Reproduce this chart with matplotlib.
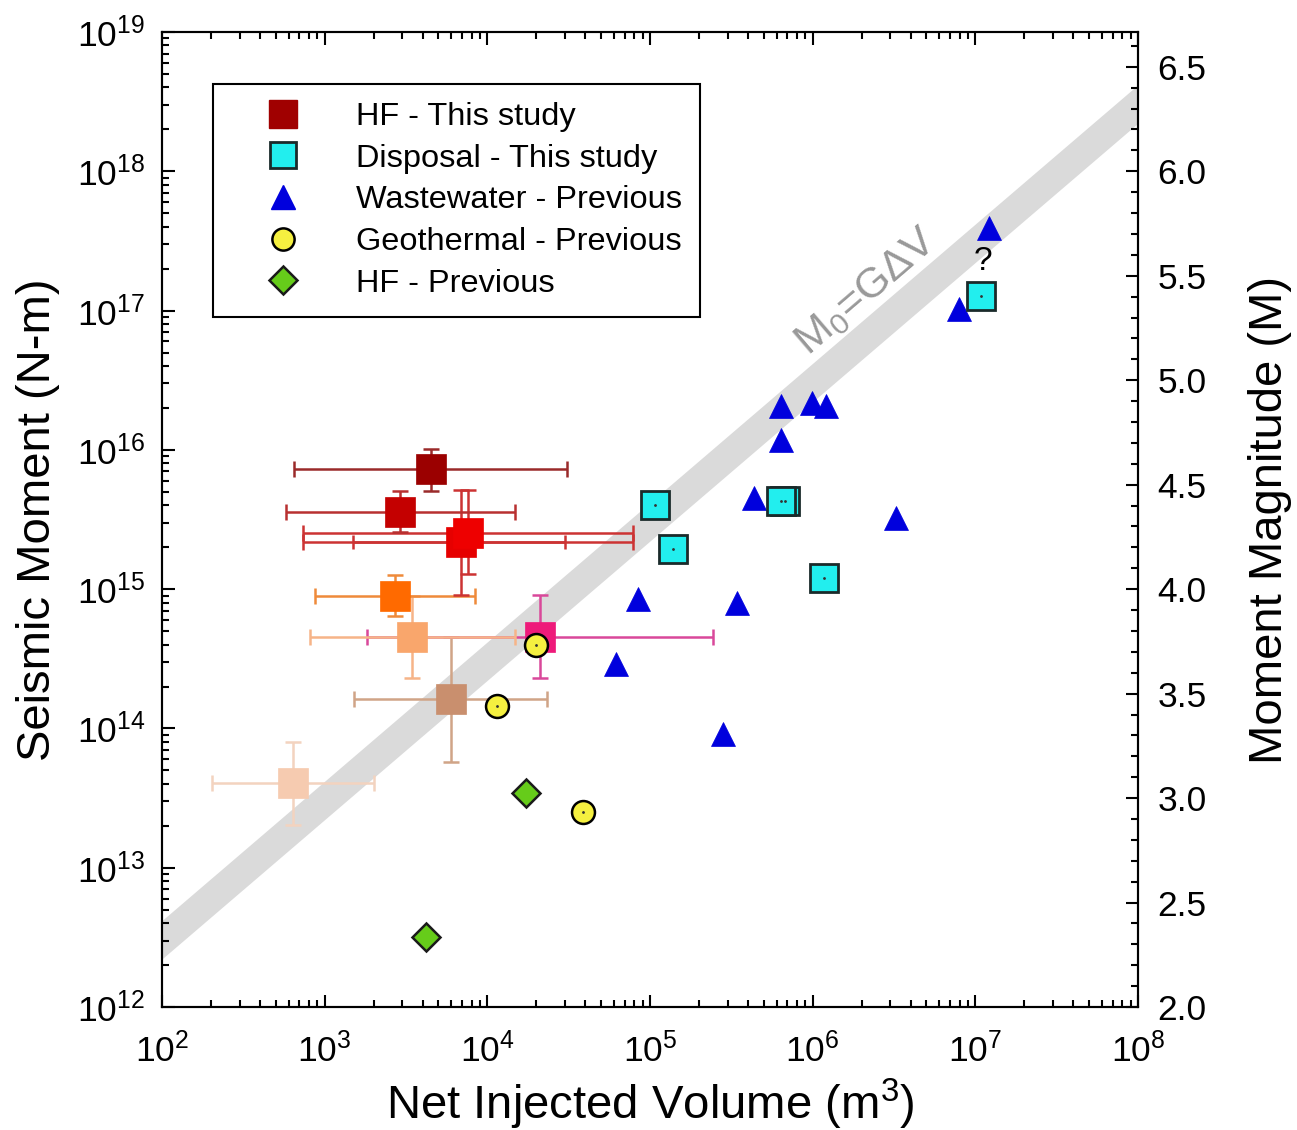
import numpy as np
import matplotlib
matplotlib.use("Agg")
import matplotlib.pyplot as plt
from matplotlib.lines import Line2D
from matplotlib.ticker import LogLocator, NullFormatter, MultipleLocator, FormatStrFormatter

plt.rcParams['font.family'] = ['Liberation Sans', 'DejaVu Sans']
plt.rcParams['mathtext.fontset'] = 'custom'
plt.rcParams['mathtext.rm'] = 'Liberation Sans'
plt.rcParams['mathtext.it'] = 'Liberation Sans:italic'
plt.rcParams['mathtext.bf'] = 'Liberation Sans:bold'

# ---------------------------------------------------------------
# data (volume in m3, moment in N-m)
# ---------------------------------------------------------------
# HF - this study (squares with error bars)
hf_vol = [635, 5940, 21000, 3460, 2700, 6855, 7630, 2900, 4480]
hf_m0 = [4.05e13, 1.62e14, 4.56e14, 4.56e14, 8.98e14, 2.17e15, 2.53e15, 3.6e15, 7.26e15]
hf_vol_lo = [202, 1510, 1810, 813, 871, 733, 733, 575, 650]
hf_vol_hi = [2.02e3, 2.33e4, 2.44e5, 1.48e4, 8.4e3, 7.9e4, 7.9e4, 1.49e4, 3.1e4]
hf_m0_lo = [2.03e13, 5.7e13, 2.29e14, 2.29e14, 6.4e14, 9.1e14, 1.28e15, 2.59e15, 5.1e15]
hf_m0_hi = [8.0e13, 4.56e14, 9.1e14, 9.0e14, 1.27e15, 5.15e15, 5.15e15, 5.06e15, 1.01e16]
hf_colors = ['#f6cbb0', '#c98f6e', '#ee1a7a', '#f9a66c', '#ff6a00',
             '#e60000', '#ee0000', '#c40000', '#9b0000']
hf_err_colors = ['#f3d3bf', '#d0a487', '#d9489a', '#f6b488', '#ef8a3a',
                 '#cc3333', '#cc3333', '#b83030', '#9a2a2a']
# second (inner) volume range drawn on one of the overlapping points
inner_idx = 5
inner_vol_lo = 1500
inner_vol_hi = 3.0e4

# Disposal - this study
disp_vol = [1.07e5, 1.38e5, 6.75e5, 6.35e5, 1.17e6, 1.09e7]
disp_m0 = [4.02e15, 1.95e15, 4.3e15, 4.3e15, 1.2e15, 1.27e17]

# Wastewater - previous
ww_vol = [1.22e7, 7.93e6, 6.35e5, 9.84e5, 1.2e6, 6.4e5, 4.37e5, 3.24e6,
          8.4e4, 3.41e5, 6.17e4, 2.83e5]
ww_m0 = [3.9e17, 1.02e17, 2.07e16, 2.16e16, 2.07e16, 1.18e16, 4.5e15, 3.23e15,
         8.45e14, 7.9e14, 2.89e14, 9.08e13]

# Geothermal - previous
geo_vol = [1.98e4, 1.15e4, 3.88e4]
geo_m0 = [3.97e14, 1.44e14, 2.53e13]

# HF - previous
hfp_vol = [1.74e4, 4.2e3]
hfp_m0 = [3.46e13, 3.2e12]

shear_modulus = 3e10  # Pa, for M0 = G dV
band_vol = [1e1, 1e9]

# ---------------------------------------------------------------
fig = plt.figure(figsize=(12.97, 11.30), dpi=100)
ax = fig.add_axes([0.1249, 0.1088, 0.7525, 0.8629])

ax.set_xscale('log')
ax.set_yscale('log')
ax.set_xlim(1e2, 1e8)
ax.set_ylim(1e12, 1e19)

# grey M0 = G dV band
ax.plot(band_vol, [shear_modulus * v for v in band_vol], color='#dadada',
        lw=21, solid_capstyle='butt', zorder=1)
ax.text(2.15e6, 1.36e17, r'$\mathregular{M_0}$=G$\mathregular{\Delta}$V', color='#999999',
        fontsize=31, rotation=40.6, rotation_mode='anchor',
        ha='center', va='center', zorder=2)

# HF this study with error bars
for i in range(len(hf_vol)):
    x, y = hf_vol[i], hf_m0[i]
    xerr = [[x - hf_vol_lo[i]], [hf_vol_hi[i] - x]]
    yerr = [[y - hf_m0_lo[i]], [hf_m0_hi[i] - y]]
    ax.errorbar([x], [y], xerr=xerr, yerr=yerr, fmt='none', ecolor=hf_err_colors[i],
                elinewidth=1.8, capsize=6, capthick=1.8, zorder=3)
    if i == inner_idx:
        ax.errorbar([x], [y], xerr=[[x - inner_vol_lo], [inner_vol_hi - x]], fmt='none',
                    ecolor=hf_err_colors[i], elinewidth=1.8, capsize=5, capthick=1.8, zorder=3)
for i in range(len(hf_vol)):
    ax.plot(hf_vol[i], hf_m0[i], 's', ms=21, color=hf_colors[i],
            mec=hf_colors[i], mew=0.5, zorder=4)

# Wastewater triangles
ax.plot(ww_vol, ww_m0, '^', ms=17.5, color='#0000dd', mec='#0000dd', mew=0.5,
        ls='none', zorder=5)

# Disposal squares
ax.plot(disp_vol, disp_m0, 's', ms=19.5, mfc='#22eeee', mec='#1a2a2a', mew=2.0,
        ls='none', zorder=6)
ax.plot(disp_vol, disp_m0, '.', ms=2, color='#333333', ls='none', zorder=6)
ax.text(1.11e7, 2.25e17, '?', fontsize=24, ha='center', va='center', zorder=6)

# Geothermal circles
ax.plot(geo_vol, geo_m0, 'o', ms=16.5, mfc='#f5f040', mec='black', mew=1.8,
        ls='none', zorder=7)
ax.plot(geo_vol, geo_m0, '.', ms=2, color='#333333', ls='none', zorder=7)

# HF previous diamonds
ax.plot(hfp_vol, hfp_m0, 'D', ms=14.5, mfc='#66cc1a', mec='#1a1a1a', mew=1.8,
        ls='none', zorder=7)

# ---------------------------------------------------------------
# axes styling
for sp in ax.spines.values():
    sp.set_linewidth(1.5)
ax.xaxis.set_major_locator(LogLocator(base=10, numticks=20))
ax.xaxis.set_minor_locator(LogLocator(base=10, subs=np.arange(2, 10), numticks=20))
ax.yaxis.set_major_locator(LogLocator(base=10, numticks=20))
ax.yaxis.set_minor_locator(LogLocator(base=10, subs=np.arange(2, 10), numticks=20))
ax.xaxis.set_minor_formatter(NullFormatter())
ax.yaxis.set_minor_formatter(NullFormatter())
ax.tick_params(which='both', direction='in', top=True, right=False, width=1.5)
ax.tick_params(which='major', length=9, labelsize=25.5)
ax.tick_params(which='minor', length=5)
ax.tick_params(axis='x', which='major', pad=18)
ax.tick_params(axis='y', which='major', pad=12)

ax.set_xlabel(r'Net Injected Volume (m$^\mathregular{3}$)', fontsize=34, labelpad=6)
ax.set_ylabel('Seismic Moment (N-m)', fontsize=34, labelpad=12)

ax2 = ax.twinx()
ax2.set_ylim(2.0, 2.0 / 3.0 * 19 - 6.0)
ax2.yaxis.set_major_locator(MultipleLocator(0.5))
ax2.yaxis.set_minor_locator(MultipleLocator(0.1))
ax2.yaxis.set_major_formatter(FormatStrFormatter('%.1f'))
ax2.tick_params(which='both', direction='in', width=1.5)
ax2.tick_params(which='major', length=9, labelsize=25.5, pad=14)
ax2.tick_params(which='minor', length=5)
ax2.set_ylabel('Moment Magnitude (M)', fontsize=34, labelpad=30)
for sp in ax2.spines.values():
    sp.set_linewidth(1.5)

# legend
handles = [
    Line2D([], [], marker='s', ls='none', ms=20, color='#a00000', mec='#a00000'),
    Line2D([], [], marker='s', ls='none', ms=19, mfc='#22eeee', mec='#1a2a2a', mew=2.0),
    Line2D([], [], marker='^', ls='none', ms=17, color='#0000dd'),
    Line2D([], [], marker='o', ls='none', ms=16, mfc='#f5f040', mec='black', mew=1.8),
    Line2D([], [], marker='D', ls='none', ms=14, mfc='#66cc1a', mec='#1a1a1a', mew=1.8),
]
labels = ['HF - This study', 'Disposal - This study', 'Wastewater - Previous',
          'Geothermal - Previous', 'HF - Previous']
leg = ax2.legend(handles, labels, loc='upper left', bbox_to_anchor=(213 / 1297, 1 - 84 / 1130),
                 bbox_transform=fig.transFigure, borderaxespad=0, fontsize=23.4,
                 frameon=True, fancybox=False, edgecolor='black', framealpha=1,
                 borderpad=0.55, handlelength=3.2, handletextpad=0.65, labelspacing=0.36)
leg.get_frame().set_linewidth(1.5)

fig.savefig('out.png', dpi=100)
